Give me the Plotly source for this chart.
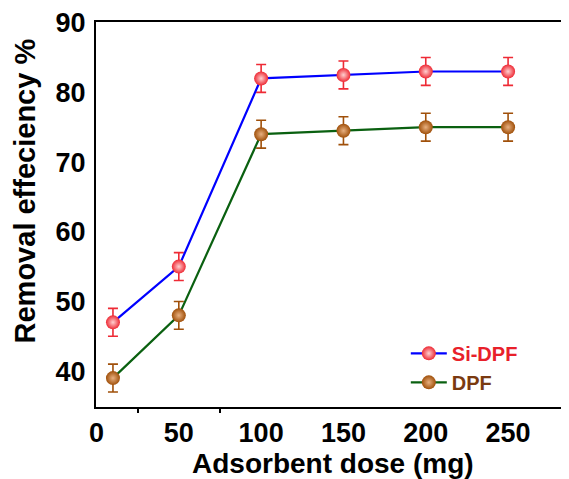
import plotly.graph_objects as go

dose = [10, 50, 100, 150, 200, 250]
si_dpf = [47, 55, 82, 82.5, 83, 83]
si_dpf_err = [2, 2, 2, 2, 2, 2]
dpf = [39, 48, 74, 74.5, 75, 75]
dpf_err = [2, 2, 2, 2, 2, 2]
x_ticks = [0, 50, 100, 150, 200, 250]
y_ticks = [40, 50, 60, 70, 80, 90]

FONT = "Liberation Sans, Arial, sans-serif"

fig = go.Figure()
fig.add_trace(go.Scatter(
    x=dose, y=si_dpf, mode="lines+markers",
    name="<b><span style='color:#e8202a'>Si-DPF</span></b>",
    line=dict(color="#0000ff", width=2.2),
    marker=dict(size=14, color="#ee2a35", gradient=dict(type="radial", color="#ffd0d0"),
                line=dict(width=0)),
    error_y=dict(type="data", array=si_dpf_err, color="#ee2a35", thickness=1.6, width=5),
))
fig.add_trace(go.Scatter(
    x=dose, y=dpf, mode="lines+markers",
    name="<b><span style='color:#7a3a10'>DPF</span></b>",
    line=dict(color="#0a6010", width=2.2),
    marker=dict(size=14, color="#a0500a", gradient=dict(type="radial", color="#e8b080"),
                line=dict(width=0)),
    error_y=dict(type="data", array=dpf_err, color="#a0500a", thickness=1.6, width=5),
))

# page body has an 8px default margin; the figure is sized to compensate
fig.update_layout(
    width=561, height=471,
    margin=dict(l=88, r=0, t=14, b=72, autoexpand=False),
    paper_bgcolor="white", plot_bgcolor="white",
    font=dict(family=FONT, color="black"),
    showlegend=True,
    legend=dict(x=0.655, y=0.19, xanchor="left", yanchor="top",
                bgcolor="rgba(0,0,0,0)", font=dict(size=20, family=FONT),
                tracegroupgap=0, itemwidth=36),
    annotations=[
        dict(text="<b>Removal effeciency %</b>", textangle=-90,
             xref="paper", yref="paper", x=-0.150, y=0.56,
             xanchor="center", yanchor="middle", showarrow=False,
             font=dict(size=29, family=FONT, color="black")),
        dict(text="<b>Adsorbent dose (mg)</b>",
             xref="paper", yref="paper", x=0.5, y=-0.146,
             xanchor="center", yanchor="middle", showarrow=False,
             font=dict(size=28, family=FONT, color="black")),
    ],
)
fig.update_xaxes(
    range=[-0.3, 287], tickmode="array", tickvals=x_ticks,
    ticktext=[f"<b>{v}</b>" for v in x_ticks],
    tickfont=dict(size=27, family=FONT, color="black"),
    showgrid=False, zeroline=False, showline=True, linecolor="black", linewidth=2,
    mirror=True, ticks="", ticklabelstandoff=1, automargin=False,
    minor=dict(tickmode="array", tickvals=[25, 75], ticks="outside", ticklen=4,
               tickcolor="black", tickwidth=2, showgrid=False),
)
fig.update_yaxes(
    range=[34.85, 90.1], tickmode="array", tickvals=y_ticks,
    ticktext=[f"<b>{v}</b>" for v in y_ticks],
    tickfont=dict(size=27, family=FONT, color="black"),
    showgrid=False, zeroline=False, showline=True, linecolor="black", linewidth=2,
    mirror=False, ticks="", ticklabelstandoff=3, automargin=False,
)

fig.write_html("out.html")
